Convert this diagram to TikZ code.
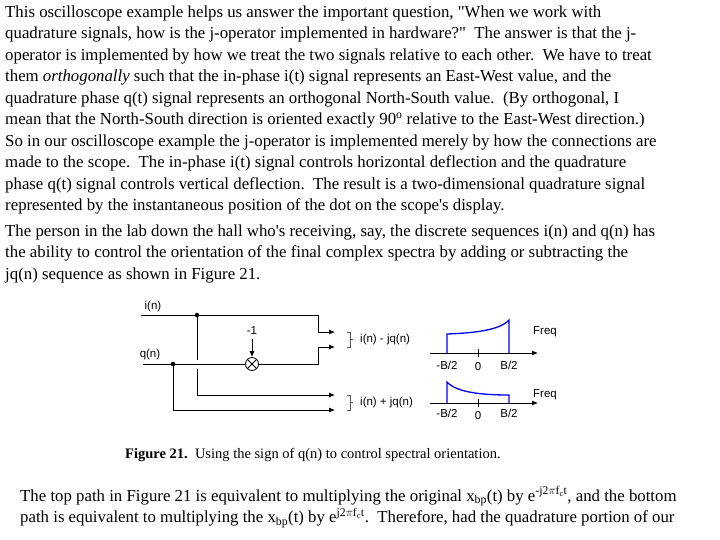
\documentclass[tikz,border=0pt]{standalone}
\usepackage{fontspec}
\setmainfont{Liberation Serif}
\setsansfont{Liberation Sans}
\usetikzlibrary{arrows.meta}
\newcommand{\dq}{\textquotedbl}
\newcommand{\sq}{\textquotesingle}
\begin{document}
\begin{tikzpicture}[x=1pt,y=-1pt,
 tl/.style={anchor=base west,inner sep=0pt,font=\fontsize{16.8}{18}\selectfont},
 dl/.style={font=\sffamily\fontsize{11.5}{12}\selectfont,inner sep=0pt},
 sig/.style={line width=0.8pt},
 arr/.style={sig,-{Latex[length=6pt,width=5pt]}},
 spec/.style={blue,line width=1.3pt},
 dotn/.style={circle,fill,inner sep=1.6pt}]
\useasboundingbox[fill=white] (0,0) rectangle (720,539);
\node[tl] (t1) at (5,17) {This oscilloscope example helps us answer the important question, \dq When we work with};
\node[tl] (t2) at (5,38.5) {quadrature signals, how is the j-operator implemented in hardware?\dq\ \ The answer is that the j-};
\node[tl] (t3) at (5,60) {operator is implemented by how we treat the two signals relative to each other.\ \ We have to treat};
\node[tl] (t4) at (5,81.5) {them \textit{orthogonally} such that the in-phase i(t) signal represents an East-West value, and the};
\node[tl] (t5) at (5,103) {quadrature phase q(t) signal represents an orthogonal North-South value.\ \ (By orthogonal, I};
\node[tl] (t6) at (5,124.5) {mean that the North-South direction is oriented exactly 90\textsuperscript{o} relative to the East-West direction.)};
\node[tl] (t7) at (5,146) {So in our oscilloscope example the j-operator is implemented merely by how the connections are};
\node[tl] (t8) at (5,167.5) {made to the scope.\ \ The in-phase i(t) signal controls horizontal deflection and the quadrature};
\node[tl] (t9) at (5,189) {phase q(t) signal controls vertical deflection.\ \ The result is a two-dimensional quadrature signal};
\node[tl] (t10) at (5,210.5) {represented by the instantaneous position of the dot on the scope\sq s display.};
\node[tl] (t11) at (5,236) {The person in the lab down the hall who\sq s receiving, say, the discrete sequences i(n) and q(n) has};
\node[tl] (t12) at (5,257.5) {the ability to control the orientation of the final complex spectra by adding or subtracting the};
\node[tl] (t13) at (5,279) {jq(n) sequence as shown in Figure 21.};
% diagram
\node[dl] (il) at (153,307) {i(n)};
\node[dl] (ql) at (150,355) {q(n)};
\coordinate (i0) at (141,315);
\coordinate (q0) at (143,364);
\node[dotn] (di) at (197,315) {};
\node[dotn] (dq) at (173,364) {};
\node[circle,draw,sig,inner sep=0pt,minimum size=13pt] (mul) at (252,364) {};
\draw[sig] (mul.north west)--(mul.south east) (mul.north east)--(mul.south west);
\node[dl] (m1) at (252,331) {-1};
\draw[arr] (252,339) -- (mul.north);
\coordinate (a1) at (335,332);
\coordinate (a2) at (335,347);
\coordinate (a3) at (335,395);
\coordinate (a4) at (335,410);
\draw[sig] (i0) -- (di);
\draw[arr] (di) -- (318,315) |- (a1);
\draw[sig] (q0) -- (mul.west);
\draw[arr] (mul.east) -- (318,364) |- (a2);
\draw[sig] (di) -- (197,360);
\draw[arr] (197,369) |- (a3);
\draw[arr] (dq) |- (a4);
\draw[line width=0.5pt,gray!70!black] (347,332)--(350,332)--(350,347)--(347,347) (350,339.5)--(353,339.5);
\draw[line width=0.5pt,gray!70!black] (347,395)--(350,395)--(350,410)--(347,410) (350,402.5)--(353,402.5);
\node[dl,anchor=west] (s1) at (360,340) {i(n) - jq(n)};
\node[dl,anchor=west] (s2) at (360,403) {i(n) + jq(n)};
% spectra top
\draw[arr] (430,353) -- (538,353);
\draw[sig] (478,349)--(478,357);
\draw[spec] (447,353) -- (447,334) .. controls (475,333) and (500,330) .. (509,320) -- (509,353);
\node[dl] (f1) at (545,332) {Freq};
\node[dl] (b1) at (447,365) {-B/2};
\node[dl] (z1) at (478,367) {0};
\node[dl] (c1) at (509,365) {B/2};
% bottom
\draw[arr] (430,403) -- (538,403);
\draw[sig] (478,399)--(478,407);
\draw[spec] (447,403) -- (447,382) .. controls (456,392) and (480,395) .. (509,395) -- (509,403);
\node[dl] (f2) at (545,395) {Freq};
\node[dl] (b2) at (447,413) {-B/2};
\node[dl] (z2) at (478,416) {0};
\node[dl] (c2) at (509,413) {B/2};
\node[anchor=base west,inner sep=0pt,font=\fontsize{14.5}{16}\selectfont] (cap) at (125,458) {\textbf{Figure 21.}\ \ Using the sign of q(n) to control spectral orientation.};
\node[tl] (t14) at (20,501) {The top path in Figure 21 is equivalent to multiplying the original x\textsubscript{bp}(t) by e\textsuperscript{-j2$\pi$f\textsubscript{c}t}, and the bottom};
\node[tl] (t15) at (20,522.5) {path is equivalent to multiplying the x\textsubscript{bp}(t) by e\textsuperscript{j2$\pi$f\textsubscript{c}t}.\ \ Therefore, had the quadrature portion of our};
\end{tikzpicture}
\end{document}
